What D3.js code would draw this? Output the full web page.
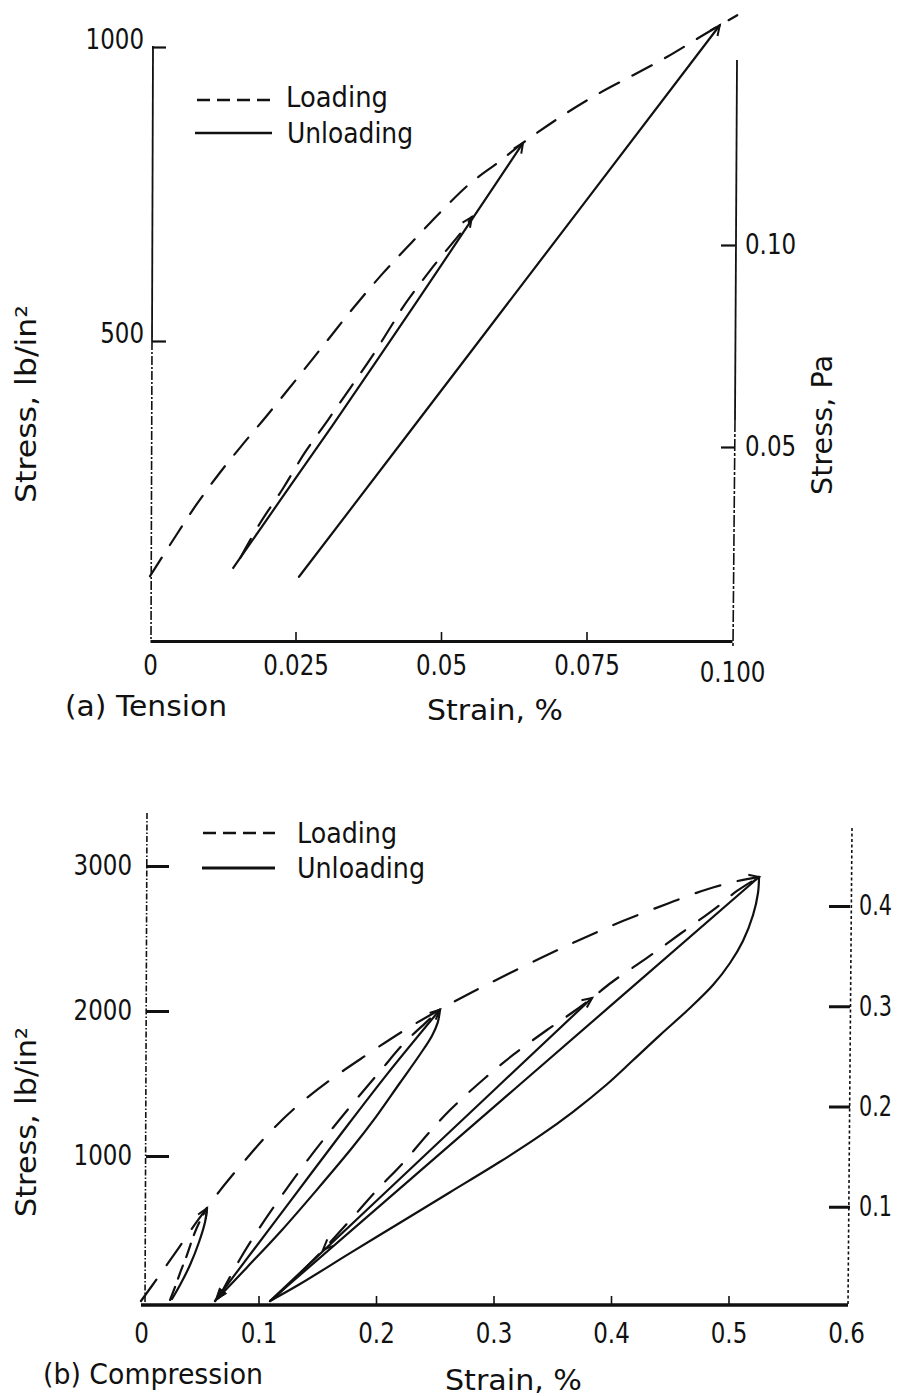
<!DOCTYPE html>
<html>
<head>
<meta charset="utf-8">
<script src="https://cdn.jsdelivr.net/npm/d3@7"></script>
<style>
  html, body { margin: 0; padding: 0; background: #fff; }
  svg { display: block; }
  text { font-family: "DejaVu Sans", sans-serif; fill: #111; }
</style>
</head>
<body>
<svg id="chart" width="903" height="1396"></svg>
<script>
// ---------- (a) Tension: axis ticks ----------
const tensionStrainTicks = [0, 0.025, 0.05, 0.075, 0.1];
const tensionStrainLabels = ["0", "0.025", "0.05", "0.075", "0.100"];
const tensionStressTicks = [500, 1000];
const tensionStressLabels = ["500", "1000"];
const tensionPaTicks = [0.05, 0.10];
const tensionPaLabels = ["0.05", "0.10"];

// ---------- (a) Tension: curves, [strain %, stress lb/in²] ----------
const tensionLoading = [
  [0, 100], [0.004, 162], [0.008, 222], [0.012, 276], [0.016, 325], [0.02, 372],
  [0.025, 433], [0.03, 495], [0.035, 557], [0.04, 615], [0.045, 668], [0.05, 720],
  [0.055, 768], [0.06, 805], [0.0641, 837], [0.0716, 888], [0.0773, 922], [0.083, 952],
  [0.0888, 983], [0.0945, 1017], [0.0979, 1037], [0.1009, 1054]
];
const tensionReloading = [
  [0.0155, 131], [0.0189, 190], [0.0229, 250], [0.0266, 310], [0.0306, 366],
  [0.0344, 420], [0.0381, 473], [0.0418, 531], [0.0435, 558], [0.0486, 626],
  [0.0538, 689], [0.0553, 711]
];
const tensionUnloading1 = [
  [0.0143, 114], [0.0223, 228], [0.0314, 357], [0.0459, 568], [0.055, 702], [0.0641, 837]
];
const tensionUnloading2 = [
  [0.0256, 99], [0.055, 480], [0.0979, 1037]
];
const tensionArrows = [
  { tip: [0.0641, 837], tail: [0.055, 702] },
  { tip: [0.0553, 711], tail: [0.0538, 689] },
  { tip: [0.0979, 1037], tail: [0.09, 930] }
];

// ---------- (b) Compression: axis ticks ----------
const compStrainTicks = [0, 0.1, 0.2, 0.3, 0.4, 0.5, 0.6];
const compStrainLabels = ["0", "0.1", "0.2", "0.3", "0.4", "0.5", "0.6"];
const compStressTicks = [1000, 2000, 3000];
const compStressLabels = ["1000", "2000", "3000"];
const compPaTicks = [0.1, 0.2, 0.3, 0.4];
const compPaLabels = ["0.1", "0.2", "0.3", "0.4"];

// ---------- (b) Compression: curves, [strain %, stress lb/in²] ----------
const compLoading = [
  [0, 0], [0.016, 180], [0.032, 365], [0.046, 530], [0.056, 640], [0.067, 760],
  [0.077, 860], [0.0885, 970], [0.108, 1150], [0.131, 1331], [0.161, 1524],
  [0.192, 1697], [0.2247, 1870], [0.2545, 2010], [0.274, 2097], [0.297, 2193],
  [0.342, 2372], [0.376, 2500], [0.41, 2620], [0.448, 2740], [0.482, 2840],
  [0.507, 2895], [0.526, 2925]
];
const compReload1 = [
  [0.0247, 7], [0.029, 97], [0.0332, 193], [0.0391, 317], [0.046, 476], [0.0528, 593], [0.0562, 640]
];
const compUnload1 = [
  [0.0562, 640], [0.0545, 545], [0.0494, 407], [0.0417, 248], [0.0332, 110], [0.0264, 14]
];
const compReload2 = [
  [0.066, 20], [0.0843, 290], [0.1013, 510], [0.1209, 740], [0.1421, 975],
  [0.1634, 1195], [0.1847, 1405], [0.2051, 1600], [0.223, 1770], [0.2417, 1915], [0.2545, 2010]
];
const compUnload2a = [
  [0.2545, 2010], [0.21, 1570], [0.17, 1150], [0.13, 720], [0.09, 290], [0.063, 0]
];
const compUnload2b = [
  [0.2545, 2010], [0.2525, 1920], [0.2477, 1830], [0.2374, 1700], [0.22, 1500],
  [0.20, 1270], [0.18, 1060], [0.15, 770], [0.12, 490], [0.09, 230], [0.063, 0]
];
const compReload3 = [
  [0.1115, 7], [0.1268, 124], [0.1549, 352], [0.1804, 579], [0.2009, 766], [0.223, 952],
  [0.2434, 1145], [0.263, 1317], [0.2928, 1538], [0.3166, 1697], [0.3455, 1869],
  [0.3677, 1993], [0.3838, 2090], [0.4009, 2200], [0.4315, 2372], [0.4587, 2531],
  [0.4902, 2717], [0.5072, 2828], [0.526, 2924]
];
const compUnload3a = [
  [0.3838, 2090], [0.2468, 1045], [0.1098, 0]
];
const compUnload3b = [
  [0.526, 2924], [0.318, 1462], [0.1098, 0]
];
const compUnload3c = [
  [0.526, 2924], [0.5251, 2814], [0.5209, 2662], [0.5123, 2483], [0.5013, 2331],
  [0.4868, 2179], [0.4672, 2021], [0.4417, 1834], [0.4187, 1660], [0.3966, 1495],
  [0.3677, 1305], [0.3396, 1140], [0.3055, 960], [0.263, 750], [0.2204, 540],
  [0.1779, 330], [0.1353, 117], [0.1098, 0]
];
const compArrows = [
  { tip: [0.063, 0], tail: [0.076, 135], filled: true },
  { tip: [0.155, 355], tail: [0.166, 440], filled: false },
  { tip: [0.0562, 640], tail: [0.0528, 593], filled: false },
  { tip: [0.2545, 2010], tail: [0.2417, 1915], filled: false },
  { tip: [0.384, 2090], tail: [0.3677, 1993], filled: false },
  { tip: [0.526, 2924], tail: [0.507, 2890], filled: false }
];

// ---------- drawing ----------
const svg = d3.select("#chart");
const INK = "#111";
const FONT = 28;

function condense(sel, sx) {
  sel.each(function () {
    const w = this.getComputedTextLength();
    d3.select(this).attr("textLength", w * sx).attr("lengthAdjust", "spacingAndGlyphs");
  });
}

function fixedText(g, str, x, y, width, opts = {}) {
  const t = g.append("text")
    .attr("x", x).attr("y", y)
    .attr("font-size", opts.size || FONT)
    .attr("text-anchor", opts.anchor || "start")
    .text(str);
  if (opts.rotate) {
    t.attr("x", 0).attr("y", 0)
      .attr("transform", `translate(${x},${y}) rotate(${opts.rotate})`);
  }
  if (width) t.attr("textLength", width).attr("lengthAdjust", "spacingAndGlyphs");
  return t;
}

function styleAxis(g, tickWidth, sx = 0.82) {
  g.selectAll(".tick line").attr("stroke", INK).attr("stroke-width", tickWidth);
  g.selectAll(".tick text")
    .attr("font-size", FONT)
    .attr("font-family", "DejaVu Sans, sans-serif")
    .attr("fill", INK);
  condense(g.selectAll(".tick text"), sx);
}

function drawArrow(g, x, y, a) {
  const p = a.tip, q = a.tail;
  const tx = x(p[0]), ty = y(p[1]);
  const ang = Math.atan2(ty - y(q[1]), tx - x(q[0]));
  const len = a.filled ? 13 : 10, hw = 4.5;
  const bx = tx - len * Math.cos(ang), by = ty - len * Math.sin(ang);
  const nx = -Math.sin(ang) * hw, ny = Math.cos(ang) * hw;
  if (a.filled) {
    g.append("path")
      .attr("d", `M${tx},${ty}L${bx + nx},${by + ny}L${bx - nx},${by - ny}Z`)
      .attr("fill", INK).attr("stroke", INK).attr("stroke-width", 1);
  } else {
    g.append("path")
      .attr("d", `M${bx + nx},${by + ny}L${tx},${ty}L${bx - nx},${by - ny}`)
      .attr("fill", "none").attr("stroke", INK).attr("stroke-width", 2);
  }
}

function drawCurve(g, line, data, dash) {
  g.append("path")
    .datum(data)
    .attr("d", line)
    .attr("fill", "none")
    .attr("stroke", INK)
    .attr("stroke-width", 2.2)
    .attr("stroke-linecap", "round")
    .attr("stroke-dasharray", dash || null);
}

// ===== Panel (a): Tension =====
{
  const x = d3.scaleLinear().domain([0, 0.1]).range([150, 732]);
  const y = d3.scaleLinear().domain([0, 1000]).range([635, 47]);
  const yPa = d3.scaleLinear().domain([0, 0.1]).range([649, 245]);
  const xAxisY = 641, leftX = 152, rightX = 735;
  const g = svg.append("g");

  // left stress axis: solid above 500, dash-dot below
  g.append("line").attr("x1", leftX + 1).attr("x2", leftX).attr("y1", y(1000) - 1).attr("y2", y(500))
    .attr("stroke", INK).attr("stroke-width", 1.8);
  g.append("line").attr("x1", leftX).attr("x2", leftX - 1).attr("y1", y(500)).attr("y2", xAxisY)
    .attr("stroke", INK).attr("stroke-width", 1.6).attr("stroke-dasharray", "9,2,2,2");
  const gl = g.append("g").attr("transform", `translate(${leftX},0)`)
    .call(d3.axisLeft(y).tickValues(tensionStressTicks)
      .tickFormat((d, i) => tensionStressLabels[i])
      .tickSizeInner(-14).tickSizeOuter(0).tickPadding(8));
  gl.select(".domain").remove();
  styleAxis(gl, 2.2);
  gl.selectAll(".tick text").attr("dy", "0.05em");

  // right MPa axis
  g.append("line").attr("x1", rightX + 2).attr("x2", rightX).attr("y1", 60).attr("y2", 420)
    .attr("stroke", INK).attr("stroke-width", 1.8);
  g.append("line").attr("x1", rightX).attr("x2", rightX - 2).attr("y1", 420).attr("y2", xAxisY + 5)
    .attr("stroke", INK).attr("stroke-width", 1.6).attr("stroke-dasharray", "12,2,3,2");
  const gr = g.append("g").attr("transform", `translate(${rightX},0)`)
    .call(d3.axisRight(yPa).tickValues(tensionPaTicks)
      .tickFormat((d, i) => tensionPaLabels[i])
      .tickSizeInner(-14).tickSizeOuter(0).tickPadding(10));
  gr.select(".domain").remove();
  styleAxis(gr, 2.2);

  // strain axis
  const gx = g.append("g").attr("transform", `translate(0,${xAxisY})`)
    .call(d3.axisBottom(x).tickValues(tensionStrainTicks)
      .tickFormat((d, i) => tensionStrainLabels[i])
      .tickSizeInner(-9).tickSizeOuter(0).tickPadding(14));
  gx.select(".domain").attr("stroke", INK).attr("stroke-width", 3.2);
  styleAxis(gx, 1.6);
  gx.selectAll(".tick line").filter(d => d === 0 || d === 0.1).remove();
  gx.selectAll(".tick text").filter(d => d === 0.1).attr("dy", "0.95em");

  // curves
  const line = d3.line().x(d => x(d[0])).y(d => y(d[1])).curve(d3.curveCatmullRom.alpha(0.5));
  const dash = "22,15";
  drawCurve(g, line, tensionLoading, dash);
  drawCurve(g, line, tensionReloading, dash);
  drawCurve(g, line, tensionUnloading1);
  drawCurve(g, line, tensionUnloading2);
  tensionArrows.forEach(a => drawArrow(g, x, y, a));

  // legend
  g.append("line").attr("x1", 197).attr("x2", 270).attr("y1", 100).attr("y2", 100)
    .attr("stroke", INK).attr("stroke-width", 2.4).attr("stroke-dasharray", "13,7");
  g.append("line").attr("x1", 195).attr("x2", 272).attr("y1", 133).attr("y2", 133)
    .attr("stroke", INK).attr("stroke-width", 2.6);
  fixedText(g, "Loading", 286, 107, 102);
  fixedText(g, "Unloading", 287, 143, 126);

  // titles
  fixedText(g, "(a) Tension", 65, 716, 162);
  fixedText(g, "Strain, %", 427, 720, 136);
  fixedText(g, "Stress, lb/in²", 36, 404, 198, { rotate: -90, anchor: "middle" });
  fixedText(g, "Stress, Pa", 832, 425, 140, { rotate: -90, anchor: "middle" });
}

// ===== Panel (b): Compression =====
{
  const x = d3.scaleLinear().domain([0, 0.6]).range([141, 846]);
  const y = d3.scaleLinear().domain([0, 3000]).range([1301, 866]);
  const yPa = d3.scaleLinear().domain([0, 0.4]).range([1307, 906]);
  const xAxisY = 1305, leftX = 146, rightX = 850;
  const g = svg.append("g");

  // left stress axis (dash-dot)
  g.append("line").attr("x1", leftX + 1).attr("x2", leftX - 1).attr("y1", 813).attr("y2", xAxisY)
    .attr("stroke", INK).attr("stroke-width", 1.6).attr("stroke-dasharray", "6,2,1.5,2");
  const gl = g.append("g").attr("transform", `translate(${leftX},0)`)
    .call(d3.axisLeft(y).tickValues(compStressTicks)
      .tickFormat((d, i) => compStressLabels[i])
      .tickSizeInner(-23).tickSizeOuter(0).tickPadding(14));
  gl.select(".domain").remove();
  styleAxis(gl, 3);

  // right MPa axis (dotted)
  g.append("line").attr("x1", rightX + 2).attr("x2", rightX - 2).attr("y1", 828).attr("y2", xAxisY)
    .attr("stroke", INK).attr("stroke-width", 1.6).attr("stroke-dasharray", "3,2.5");
  const gr = g.append("g").attr("transform", `translate(${rightX},0)`)
    .call(d3.axisRight(yPa).tickValues(compPaTicks)
      .tickFormat((d, i) => compPaLabels[i])
      .tickSizeInner(-21).tickSizeOuter(0).tickPadding(9));
  gr.select(".domain").remove();
  styleAxis(gr, 3, 0.74);

  // strain axis
  const gx = g.append("g").attr("transform", `translate(0,${xAxisY})`)
    .call(d3.axisBottom(x).tickValues(compStrainTicks)
      .tickFormat((d, i) => compStrainLabels[i])
      .tickSizeInner(-9).tickSizeOuter(0).tickPadding(18));
  gx.select(".domain").attr("stroke", INK).attr("stroke-width", 3.4)
    .attr("d", `M${x(0)},0H${x(0.6) + 2}`);
  styleAxis(gx, 1.6);
  gx.selectAll(".tick line").filter(d => d === 0 || d === 0.6).remove();

  // curves
  const line = d3.line().x(d => x(d[0])).y(d => y(d[1])).curve(d3.curveCatmullRom.alpha(0.5));
  const dash = "26,18";
  drawCurve(g, line, compLoading, dash);
  drawCurve(g, line, compReload1, "14,9");
  drawCurve(g, line, compUnload1);
  drawCurve(g, line, compReload2, "24,17");
  drawCurve(g, line, compUnload2a);
  drawCurve(g, line, compUnload2b);
  drawCurve(g, line, compReload3, "24,17");
  drawCurve(g, line, compUnload3a);
  drawCurve(g, line, compUnload3b);
  drawCurve(g, line, compUnload3c);
  compArrows.forEach(a => drawArrow(g, x, y, a));

  // legend
  g.append("line").attr("x1", 203).attr("x2", 275).attr("y1", 833).attr("y2", 833)
    .attr("stroke", INK).attr("stroke-width", 2.4).attr("stroke-dasharray", "13,7");
  g.append("line").attr("x1", 202).attr("x2", 275).attr("y1", 868).attr("y2", 868)
    .attr("stroke", INK).attr("stroke-width", 2.8);
  fixedText(g, "Loading", 297, 843, 100);
  fixedText(g, "Unloading", 297, 878, 128);

  // titles
  fixedText(g, "(b) Compression", 43, 1384, 220);
  fixedText(g, "Strain, %", 445, 1390, 137);
  fixedText(g, "Stress, lb/in²", 36, 1122, 190, { rotate: -90, anchor: "middle" });
}
</script>
</body>
</html>
